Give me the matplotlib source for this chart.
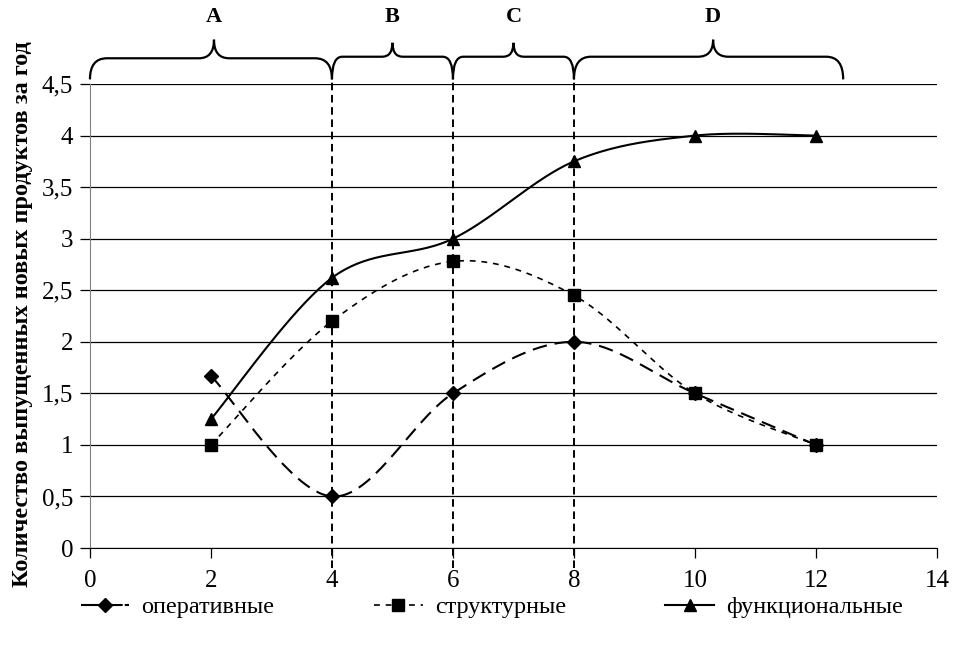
import numpy as np
import matplotlib
matplotlib.use("Agg")
import matplotlib.pyplot as plt
from matplotlib.path import Path
from matplotlib.patches import PathPatch

plt.rcParams["font.family"] = ["Liberation Serif", "DejaVu Serif"]

# --- data ---
years = [2, 4, 6, 8, 10, 12]
operative = [1.67, 0.5, 1.5, 2.0, 1.5, 1.0]
structural = [1.0, 2.2, 2.78, 2.45, 1.5, 1.0]
functional = [1.25, 2.62, 3.0, 3.75, 4.0, 4.0]

series_names = ["оперативные", "структурные", "функциональные"]
stage_labels = ["A", "B", "C", "D"]
stage_bounds = [(0, 4), (4, 6), (6, 8), (8, 12.45)]
stage_tips = [2.05, 5.0, 7.0, 10.3]
stage_lines = [4, 6, 8]

ylabel = "Количество выпущенных новых продуктов за год"


def smooth(xs, ys, n=40):
    """Excel-like smoothed line (Bezier with Catmull-Rom control points)."""
    pts = np.column_stack([xs, ys]).astype(float)
    out = []
    for i in range(len(pts) - 1):
        p0 = pts[max(i - 1, 0)]
        p1 = pts[i]
        p2 = pts[i + 1]
        p3 = pts[min(i + 2, len(pts) - 1)]
        c1 = p1 + (p2 - p0) / 6
        c2 = p2 - (p3 - p1) / 6
        t = np.linspace(0, 1, n)[:, None]
        seg = (1 - t) ** 3 * p1 + 3 * (1 - t) ** 2 * t * c1 + 3 * (1 - t) * t ** 2 * c2 + t ** 3 * p2
        out.append(seg if i == 0 else seg[1:])
    return np.vstack(out)


def brace(ax, xa, xb, xt, yb, ym, yt, r, rt):
    verts = [(xa, yb), (xa, ym), (xa + r, ym),
             (xt - rt, ym), (xt, ym), (xt, yt),
             (xt, ym), (xt + rt, ym),
             (xb - r, ym), (xb, ym), (xb, yb)]
    codes = [Path.MOVETO, Path.CURVE3, Path.CURVE3,
             Path.LINETO, Path.CURVE3, Path.CURVE3,
             Path.CURVE3, Path.CURVE3,
             Path.LINETO, Path.CURVE3, Path.CURVE3]
    patch = PathPatch(Path(verts, codes), fill=False, lw=1.6, edgecolor="black",
                      transform=ax.transData, clip_on=False)
    ax.add_patch(patch)


fig = plt.figure(figsize=(9.55, 6.48), dpi=100)
ax = fig.add_axes([0.0942, 0.1543, 0.8869, 0.7160])

ax.set_xlim(0, 14)
ax.set_ylim(0, 4.5)
ax.set_xticks(np.arange(0, 15, 2))
ax.set_yticks(np.arange(0, 4.51, 0.5))
ax.set_yticklabels([f"{v:g}".replace(".", ",") for v in np.arange(0, 4.51, 0.5)])
ax.grid(True, axis="y", color="black", lw=0.9)
ax.set_axisbelow(True)
for s in ["top", "right"]:
    ax.spines[s].set_visible(False)
ax.spines["left"].set_color("#808080")
ax.spines["bottom"].set_color("black")
ax.tick_params(axis="x", direction="out", length=7, width=0.9, pad=9, labelsize=18)
ax.tick_params(axis="y", direction="out", length=7, width=0.9, pad=5, labelsize=18, color="black")

# vertical stage separators
for xv in stage_lines:
    ax.plot([xv, xv], [-0.19, 4.54], color="black", lw=1.4, dashes=(3.9, 2.4),
            clip_on=False, zorder=2)

# series
styles = [
    dict(marker="D", ms=7, dashes=(7.0, 3.8), lw=1.5),
    dict(marker="s", ms=9, dashes=(3.5, 3.5), lw=1.2),
    dict(marker="^", ms=9, ls="-", lw=1.5),
]
legend_dashes = [(20, 1), (3.5, 3.5), None]
handles = []
for ys, st, name, ld in zip([operative, structural, functional], styles, series_names, legend_dashes):
    curve = smooth(years, ys)
    kw = {k: v for k, v in st.items() if k not in ("marker", "ms")}
    ax.plot(curve[:, 0], curve[:, 1], color="black", zorder=3, **kw)
    ax.plot(years, ys, ls="none", marker=st["marker"], ms=st["ms"], color="black", zorder=4)
    hkw = dict(kw)
    if ld is not None:
        hkw["dashes"] = ld
    h, = ax.plot([], [], color="black", marker=st["marker"], ms=st["ms"], label=name, **hkw)
    handles.append(h)

# braces and stage labels
params = [(0.28, 0.25), (0.17, 0.17), (0.17, 0.17), (0.28, 0.25)]
for (xa, xb), xt, lab, (r, rt) in zip(stage_bounds, stage_tips, stage_labels, params):
    yt = 4.93 if lab in ("A", "D") else 4.90
    ym = 4.75 if lab == "A" else 4.765
    brace(ax, xa, xb, xt, 4.545, ym, yt, r, rt)
    ax.text(xt, 5.15, lab, ha="center", va="center", fontsize=16, fontweight="bold",
            clip_on=False)

fig.text(0.024, 0.516, ylabel, rotation=90, ha="center", va="center",
         fontsize=17.5, fontweight="bold")

fig.legend(handles=handles, loc="center", bbox_to_anchor=(0.515, 0.063), ncol=3,
           frameon=False, fontsize=17.5, handlelength=2.0, numpoints=1,
           columnspacing=4.1, handletextpad=0.5)

fig.savefig("out.png", dpi=100)
